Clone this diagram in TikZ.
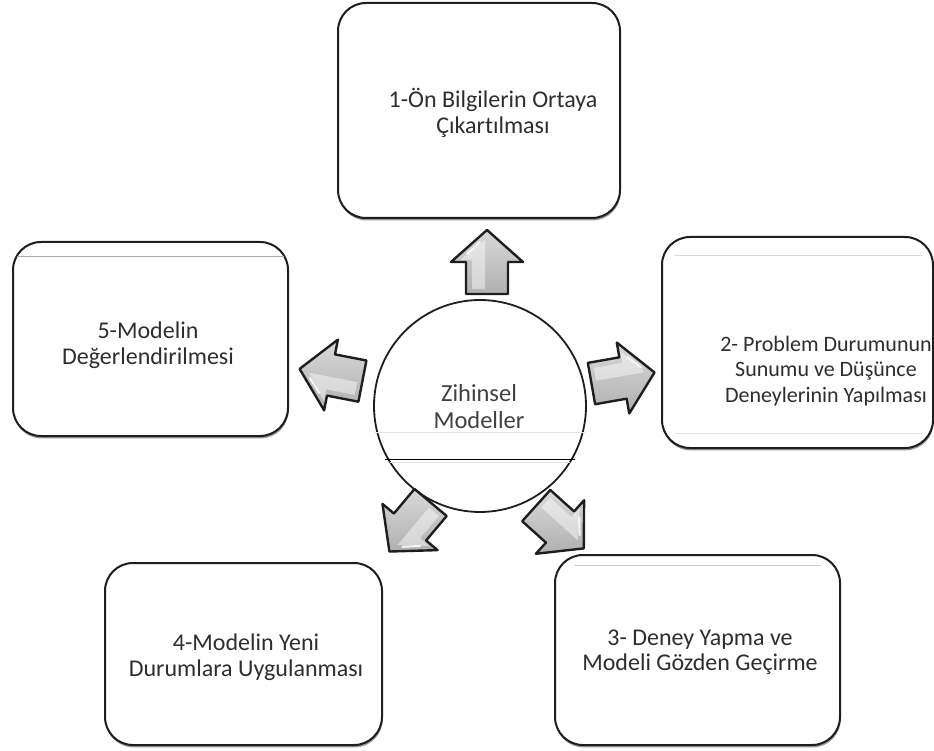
\documentclass[tikz,border=0pt]{standalone}
\usepackage{fontspec}
\setmainfont{Carlito}[Ligatures=NoCommon]
\usetikzlibrary{shadows}
\definecolor{ink}{HTML}{2E2E2E}
\definecolor{hubink}{HTML}{404040}
\definecolor{edge}{HTML}{1E1E1E}
\begin{document}
\begin{tikzpicture}[x=1pt,y=-1pt,
  stepbox/.style={draw=edge, line width=2pt, rounded corners=28pt, fill=white,
    inner sep=0pt,
    drop shadow={shadow xshift=0.6pt, shadow yshift=-2.4pt, opacity=0.55, fill=black!75}},
  steptext/.style={text=ink, align=center, inner sep=0pt,
    font=\fontsize{24}{25.5}\selectfont},
  hub/.style={circle, draw=edge, line width=1.8pt, fill=white, inner sep=0pt},
  gloss/.style={line width=0.8pt},
  arrbody/.style={draw=edge, line width=2.4pt, line join=round,
    top color=gray!30, bottom color=gray!62},
  blockarr/.pic={
    \path[arrbody] (-32,-21) -- (0,-21) -- (0,-36) -- (32,0) -- (0,36) -- (0,21)
      -- (-32,21) -- cycle;
    \fill[white, opacity=0.45] (-27,-15) -- (2,-15) -- (2,-27) -- (22,-2) -- (2,-2)
      -- (-27,-2) -- cycle;
    \draw[white, line width=2pt, line cap=round, opacity=0.85] (8,-20) -- (20,-7);
  }
]
\useasboundingbox (0,0) rectangle (934,751);

% central hub
\node[hub, minimum size=212pt] (hub) at (480,406) {};
\draw[gloss, gray!22] (375,432) -- (585,432);
\draw[black, line width=1pt] (385,459) -- (575,459);
\draw[gloss, gray!25] (390,462.5) -- (570,462.5);
\node[text=hubink, align=center, inner sep=0pt,
  font=\fontsize{24.5}{27}\selectfont] (hubtext) at (479,407) {Zihinsel\\Modeller};

% step boxes
\node[stepbox, minimum width=282pt, minimum height=215pt] (b1) at (479,110.5) {};
\node[stepbox, minimum width=271pt, minimum height=211pt] (b2) at (797.5,342.5) {};
\node[stepbox, minimum width=285pt, minimum height=190pt] (b3) at (697.5,650) {};
\node[stepbox, minimum width=277pt, minimum height=182pt] (b4) at (243.5,654) {};
\node[stepbox, minimum width=275pt, minimum height=194pt] (b5) at (150.5,339) {};

% faint highlight rules inside the boxes
\draw[gloss, gray!30] ([xshift=14pt,yshift=-19pt]b2.north west) -- ([xshift=-12pt,yshift=-19pt]b2.north east);
\draw[gloss, gray!22] ([xshift=14pt,yshift=16pt]b2.south west) -- ([xshift=-12pt,yshift=16pt]b2.south east);
\draw[gloss, gray!40] ([xshift=20pt,yshift=-11pt]b3.north west) -- ([xshift=-20pt,yshift=-11pt]b3.north east);
\draw[gloss, gray!65] ([xshift=5pt,yshift=-15pt]b5.north west) -- ([xshift=-5pt,yshift=-15pt]b5.north east);

% step labels
\node[steptext] (t1) at (493,113) {1-Ön Bilgilerin Ortaya\\Çıkartılması};
\node[steptext, font=\fontsize{22}{25.5}\selectfont] (t2) at (826,371)
  {2- Problem Durumunun\\Sunumu ve Düşünce\\Deneylerinin Yapılması};
\node[steptext] (t3) at (700,652) {3- Deney Yapma ve\\Modeli Gözden Geçirme};
\node[steptext] (t4) at (246,657) {4-Modelin Yeni\\Durumlara Uygulanması};
\node[steptext] (t5) at (148,345) {5-Modelin\\Değerlendirilmesi};

% block arrows from the hub towards each step
\pic[rotate=90]  (aUp)    at (487,262) {blockarr};
\pic[rotate=10]  (aRight) at (623,378) {blockarr};
\pic[rotate=-42] (aDR)    at (560,527) {blockarr};
\pic[rotate=230] (aDL)    at (410,527) {blockarr};
\pic[rotate=169] (aLeft)  at (331,375) {blockarr};
\end{tikzpicture}
\end{document}
